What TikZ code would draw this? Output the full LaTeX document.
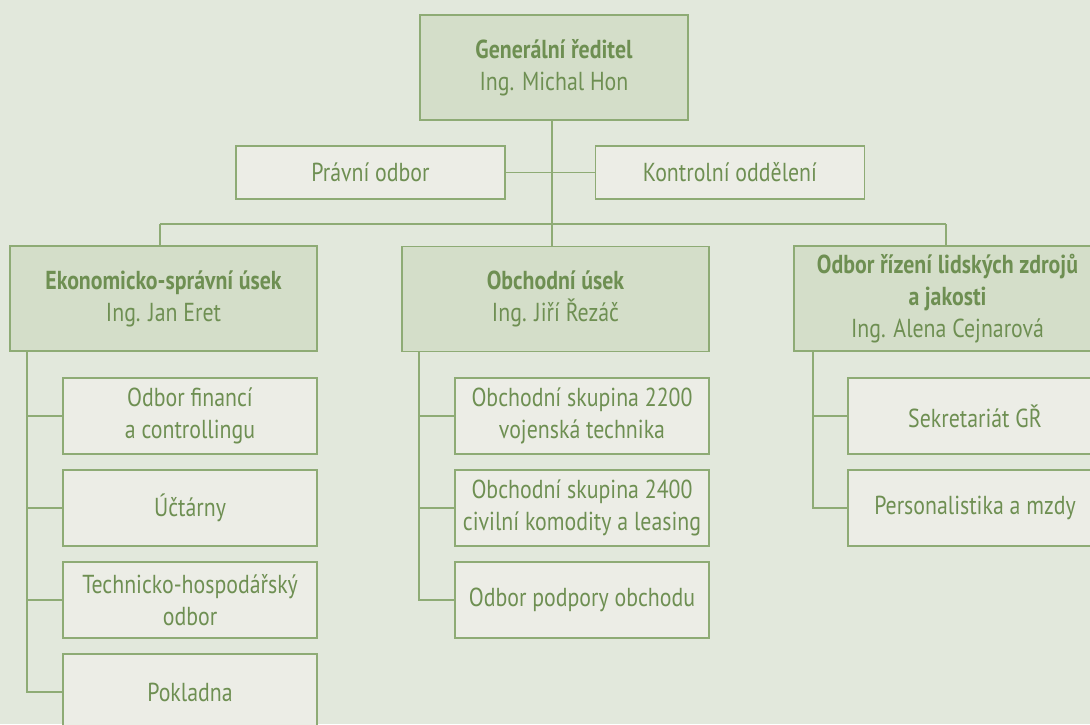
\documentclass[tikz,border=0pt]{standalone}
\usepackage{fontspec}
\setmainfont{PT Sans}[FakeStretch=0.84]
\definecolor{bg}{HTML}{E2E8DC}
\definecolor{hfill}{HTML}{D4DEC9}
\definecolor{sfill}{HTML}{ECEDE6}
\definecolor{edge}{HTML}{8EAB75}
\definecolor{txt}{HTML}{6E8F52}
\tikzset{
  base/.style={draw=edge, line width=1.6pt, text=txt, align=center, inner sep=0pt,
    font=\fontsize{26}{32}\selectfont},
  head/.style={base, fill=hfill, minimum width=307pt, minimum height=105pt},
  sub/.style={base, fill=sfill, minimum width=254pt, minimum height=76pt},
  staff/.style={base, fill=sfill, minimum width=269pt, minimum height=53pt},
  conn/.style={draw=edge, line width=1.6pt},
}
\begin{document}
\begin{tikzpicture}[x=1pt,y=-1pt]
\fill[bg] (0,0) rectangle (1090,724);
\useasboundingbox (0,0) rectangle (1090,724);
% nodes
\node[head, minimum width=268pt] (gr) at (554,67.5) {\textbf{Generální ředitel}\\Ing. Michal Hon};
\node[staff] (pr) at (370.5,172.5) {Právní odbor};
\node[staff] (ko) at (730,172.5) {Kontrolní oddělení};
\node[head] (ek) at (163.5,298.5) {\textbf{Ekonomicko-správní úsek}\\Ing. Jan Eret};
\node[head] (ob) at (555.5,299) {\textbf{Obchodní úsek}\\Ing. Jiří Řezáč};
\node[head] (lz) at (947.5,298.5) {\textbf{Odbor řízení lidských zdrojů}\\\textbf{a jakosti}\\Ing. Alena Cejnarová};
% sub boxes
\node[sub] (e1) at (190,416) {Odbor financí\\a controllingu};
\node[sub] (e2) at (190,508) {Účtárny};
\node[sub] (e3) at (190,600) {Technicko-hospodářský\\odbor};
\node[sub] (e4) at (190,692) {Pokladna};
\node[sub] (o1) at (582,416) {Obchodní skupina 2200\\vojenská technika};
\node[sub] (o2) at (582,508) {Obchodní skupina 2400\\civilní komodity a leasing};
\node[sub] (o3) at (582,600) {Odbor podpory obchodu};
\node[sub] (l1) at (975,416) {Sekretariát GŘ};
\node[sub] (l2) at (975,508) {Personalistika a mzdy};
% coordinates
\coordinate (busL) at (160,224);
\coordinate (busM) at (552,224);
\coordinate (busR) at (946,224);
\coordinate (ekS) at (27,351);
\coordinate (obS) at (419,351);
\coordinate (lzS) at (813,351);
% connectors
\draw[conn] (gr.south -| busM) -- (busM);
\draw[conn] (pr.east) -- (ko.west);
\draw[conn] (busL) -- (busR);
\draw[conn] (busL) -- (ek.north -| busL);
\draw[conn] (busM) -- (ob.north -| busM);
\draw[conn] (busR) -- (lz.north -| busR);
\draw[conn] (ekS) |- (e4.west);
\draw[conn] (ekS |- e1.west) -- (e1.west);
\draw[conn] (ekS |- e2.west) -- (e2.west);
\draw[conn] (ekS |- e3.west) -- (e3.west);
\draw[conn] (obS) |- (o3.west);
\draw[conn] (obS |- o1.west) -- (o1.west);
\draw[conn] (obS |- o2.west) -- (o2.west);
\draw[conn] (lzS) |- (l2.west);
\draw[conn] (lzS |- l1.west) -- (l1.west);
\end{tikzpicture}
\end{document}
